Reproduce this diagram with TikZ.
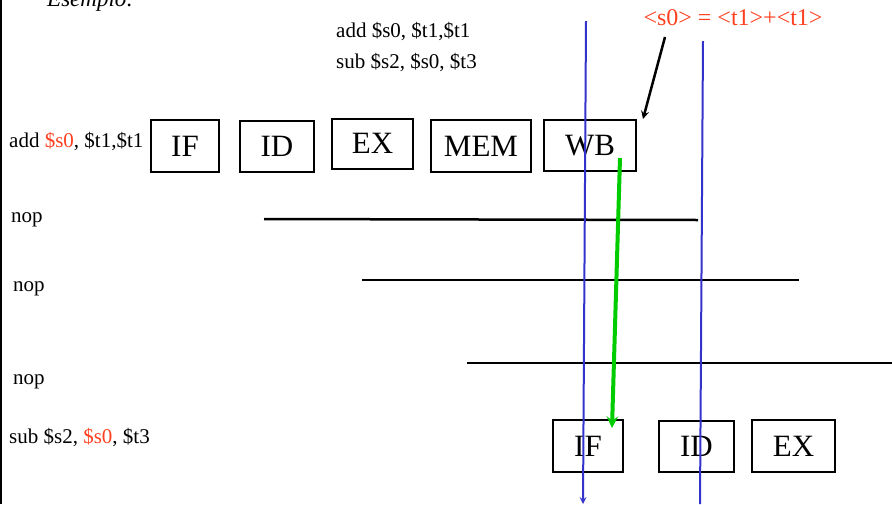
\documentclass[tikz,border=0pt]{standalone}
\usepackage{fontspec}
\setmainfont{Liberation Serif}
\usetikzlibrary{arrows}

\definecolor{regred}{RGB}{255,64,32}
\definecolor{cycblue}{RGB}{51,51,204}
\definecolor{fwdgreen}{RGB}{0,204,0}

\begin{document}
\begin{tikzpicture}[x=1pt,y=-1pt, >=stealth,
    stage/.style={draw, line width=2pt, inner sep=0pt, font=\fontsize{31}{31}\selectfont},
    instr/.style={anchor=base west, inner sep=0pt, font=\fontsize{21}{21}\selectfont},
    nopline/.style={line width=2.5pt},
    cycle/.style={cycblue, line width=2pt}]
    \useasboundingbox (0,0) rectangle (892,504);
    \draw[line width=2pt] (1,0) -- (1,504);
    \node[instr, anchor=base west, font=\fontsize{23}{23}\selectfont\itshape] (title) at (47,6) {Esempio:};
    \node[instr] (code1) at (336,37) {add \$s0, \$t1,\$t1};
    \node[instr] (code2) at (336,68) {sub \$s2, \$s0, \$t3};
    \node[instr, anchor=base, regred, font=\fontsize{24}{24}\selectfont] (note) at (733,25) {<s0> = <t1>+<t1>};
    % first instruction
    \node[instr] (add) at (9,147) {add \textcolor{regred}{\$s0}, \$t1,\$t1};
    \node[stage, minimum width=68pt, minimum height=52pt] (if1) at (185,146) {IF};
    \node[stage, minimum width=74pt, minimum height=51pt] (id1) at (277,146) {ID};
    \node[stage, minimum width=81pt, minimum height=50pt] (ex1) at (372.5,143.5) {EX};
    \node[stage, minimum width=100pt, minimum height=52pt] (mem1) at (481,146) {MEM};
    \node[stage, minimum width=92pt, minimum height=51pt] (wb1) at (590,145.5) {WB};
    % bubbles
    \node[instr] (nop1) at (11,222) {nop};
    \node[instr] (nop2) at (13,291) {nop};
    \node[instr] (nop3) at (13,384) {nop};
    \coordinate (n1a) at (264,219); \coordinate (n1b) at (698,220);
    \coordinate (n2a) at (362,280); \coordinate (n2b) at (799,280);
    \coordinate (n3a) at (467,363); \coordinate (n3b) at (892,363);
    \draw[nopline] (n1a) -- (n1b);
    \draw[nopline] (n2a) -- (n2b);
    \draw[nopline] (n3a) -- (n3b);
    % second instruction
    \node[instr] (sub) at (9,443) {sub \$s2, \textcolor{regred}{\$s0}, \$t3};
    \node[stage, minimum width=70pt, minimum height=52pt] (if2) at (588,446) {IF};
    \node[stage, minimum width=75pt, minimum height=51pt] (id2) at (696.5,446.5) {ID};
    \node[stage, minimum width=83pt, minimum height=52pt] (ex2) at (793.5,446) {EX};
    % clock edges
    \coordinate (c1a) at (586,21); \coordinate (c1b) at (583,504);
    \coordinate (c2a) at (703,41); \coordinate (c2b) at (700,504);
    \draw[cycle,->] (c1a) -- (c1b);
    \draw[cycle] (c2a) -- (c2b);
    % write back then fetch
    \coordinate (nt) at (665,37);
    \coordinate (wbc) at (643,119);
    \draw[line width=2.5pt,->] (nt) -- (wbc);
    \coordinate (fw1) at (620,158);
    \coordinate (fw2) at (612,428);
    \draw[fwdgreen, line width=4pt, ->] (fw1) -- (fw2);
\end{tikzpicture}
\end{document}
